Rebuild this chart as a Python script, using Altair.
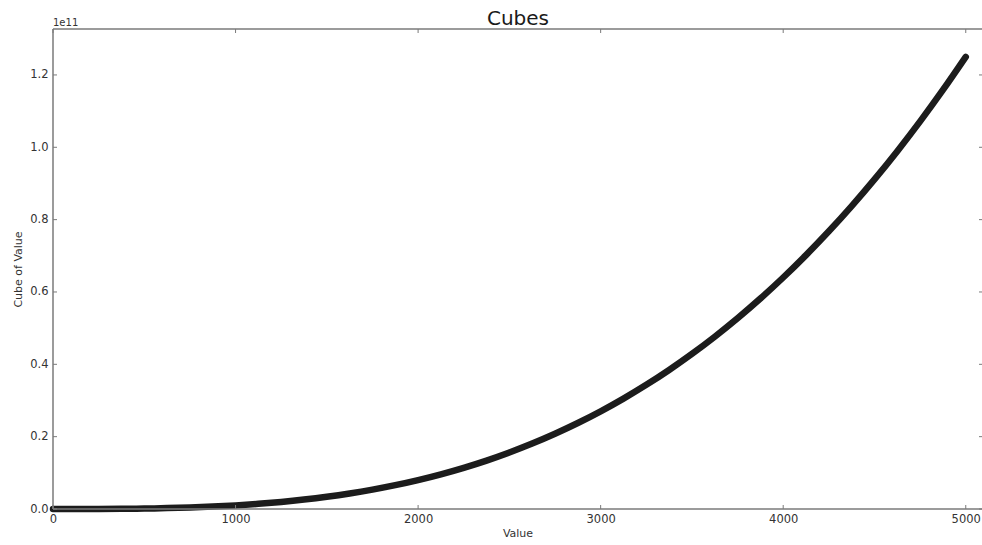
import altair as alt
import pandas as pd

# Sampled points of the cube curve (y in units of 1e11)
values = [0, 125, 250, 375, 500, 625, 750, 875, 1000, 1125, 1250, 1375, 1500,
          1625, 1750, 1875, 2000, 2125, 2250, 2375, 2500, 2625, 2750, 2875,
          3000, 3125, 3250, 3375, 3500, 3625, 3750, 3875, 4000, 4125, 4250,
          4375, 4500, 4625, 4750, 4875, 5000]
cubes_e11 = [0.0, 0.0000195, 0.000156, 0.000527, 0.00125, 0.00244, 0.00422,
             0.00670, 0.01, 0.01424, 0.01953, 0.02600, 0.03375, 0.04291,
             0.05359, 0.06592, 0.08, 0.09596, 0.11391, 0.13396, 0.15625,
             0.18088, 0.20797, 0.23764, 0.27, 0.30518, 0.34328, 0.38443,
             0.42875, 0.47635, 0.52734, 0.58186, 0.64, 0.70189, 0.76766,
             0.83740, 0.91125, 0.98932, 1.07172, 1.15857, 1.25]

x_ticks = [0, 1000, 2000, 3000, 4000, 5000]
y_ticks = [0.0, 0.2, 0.4, 0.6, 0.8, 1.0, 1.2]

W, H = 929, 480
FONT = "DejaVu Sans"
TEXT = "#333333"
SPINE = "#7a7a7a"

df = pd.DataFrame({"value": values, "cube": cubes_e11})
xt = pd.DataFrame({"t": x_ticks})
yt = pd.DataFrame({"t": y_ticks})

xscale = alt.Scale(domain=[0, 5089], nice=False, zero=False)
yscale = alt.Scale(domain=[0, 1.327], nice=False, zero=False)

curve = alt.Chart(df).mark_line(
    color="#1c1c1c", strokeWidth=6.5, strokeCap="round", strokeJoin="round",
    interpolate="monotone", clip=False
).encode(
    x=alt.X("value:Q", scale=xscale,
            axis=alt.Axis(values=x_ticks, format="d", title="Value", grid=False,
                          domain=False, ticks=False, labelPadding=4, titlePadding=3,
                          labelFont=FONT, labelFontSize=11.5, labelColor=TEXT,
                          titleFont=FONT, titleFontSize=11, titleFontWeight="normal",
                          titleColor=TEXT, labelFlush=False)),
    y=alt.Y("cube:Q", scale=yscale,
            axis=alt.Axis(values=y_ticks, format=".1f", title="Cube of Value",
                          grid=False, domain=False, ticks=False, labelPadding=5,
                          titlePadding=6, labelFont=FONT, labelFontSize=11.5,
                          labelColor=TEXT, titleFont=FONT, titleFontSize=11,
                          titleFontWeight="normal", titleColor=TEXT,
                          labelFlush=False)),
)

# Frame lines (the right edge of the frame lies just past the canvas)
spine_style = dict(color=SPINE, strokeWidth=1.5)
frame_df = pd.DataFrame({"k": [0]})
top_spine = alt.Chart(frame_df).mark_rule(**spine_style).encode(
    x=alt.value(0), x2=alt.value(W + 2), y=alt.value(0))
bottom_spine = alt.Chart(frame_df).mark_rule(**spine_style).encode(
    x=alt.value(0), x2=alt.value(W + 2), y=alt.value(H))
left_spine = alt.Chart(frame_df).mark_rule(**spine_style).encode(
    x=alt.value(0), y=alt.value(0), y2=alt.value(H))

# Inward tick marks on all four sides
tick_style = dict(color=SPINE, strokeWidth=1)
bottom_ticks = alt.Chart(xt).mark_rule(**tick_style).encode(
    x=alt.X("t:Q", scale=xscale), y=alt.value(H), y2=alt.value(H - 4))
top_ticks = alt.Chart(xt).mark_rule(**tick_style).encode(
    x=alt.X("t:Q", scale=xscale), y=alt.value(0), y2=alt.value(4))
left_ticks = alt.Chart(yt).mark_rule(**tick_style).encode(
    y=alt.Y("t:Q", scale=yscale), x=alt.value(0), x2=alt.value(4))
right_ticks = alt.Chart(yt).mark_rule(**tick_style).encode(
    y=alt.Y("t:Q", scale=yscale), x=alt.value(W - 3), x2=alt.value(W))

# Scale multiplier and title drawn as text above the frame
labels = alt.Chart(pd.DataFrame({"txt": ["1e11"]})).mark_text(
    font=FONT, fontSize=10, color=TEXT, align="left", baseline="bottom"
).encode(x=alt.value(0), y=alt.value(-1), text="txt:N")

title = alt.Chart(pd.DataFrame({"txt": ["Cubes"]})).mark_text(
    font=FONT, fontSize=20, color="#1a1a1a", align="center", baseline="alphabetic"
).encode(x=alt.value(465), y=alt.value(-4), text="txt:N")

chart = alt.layer(curve, top_spine, bottom_spine, left_spine, bottom_ticks,
                  top_ticks, left_ticks, right_ticks, labels, title).properties(
    width=W, height=H,
    background="white",
    autosize=alt.AutoSizeParams(type="none"),
    padding={"left": 53, "top": 29, "right": 0, "bottom": 36},
).configure_view(
    strokeWidth=0
)

chart.save("out.html", embed_options={"renderer": "svg", "actions": False})
